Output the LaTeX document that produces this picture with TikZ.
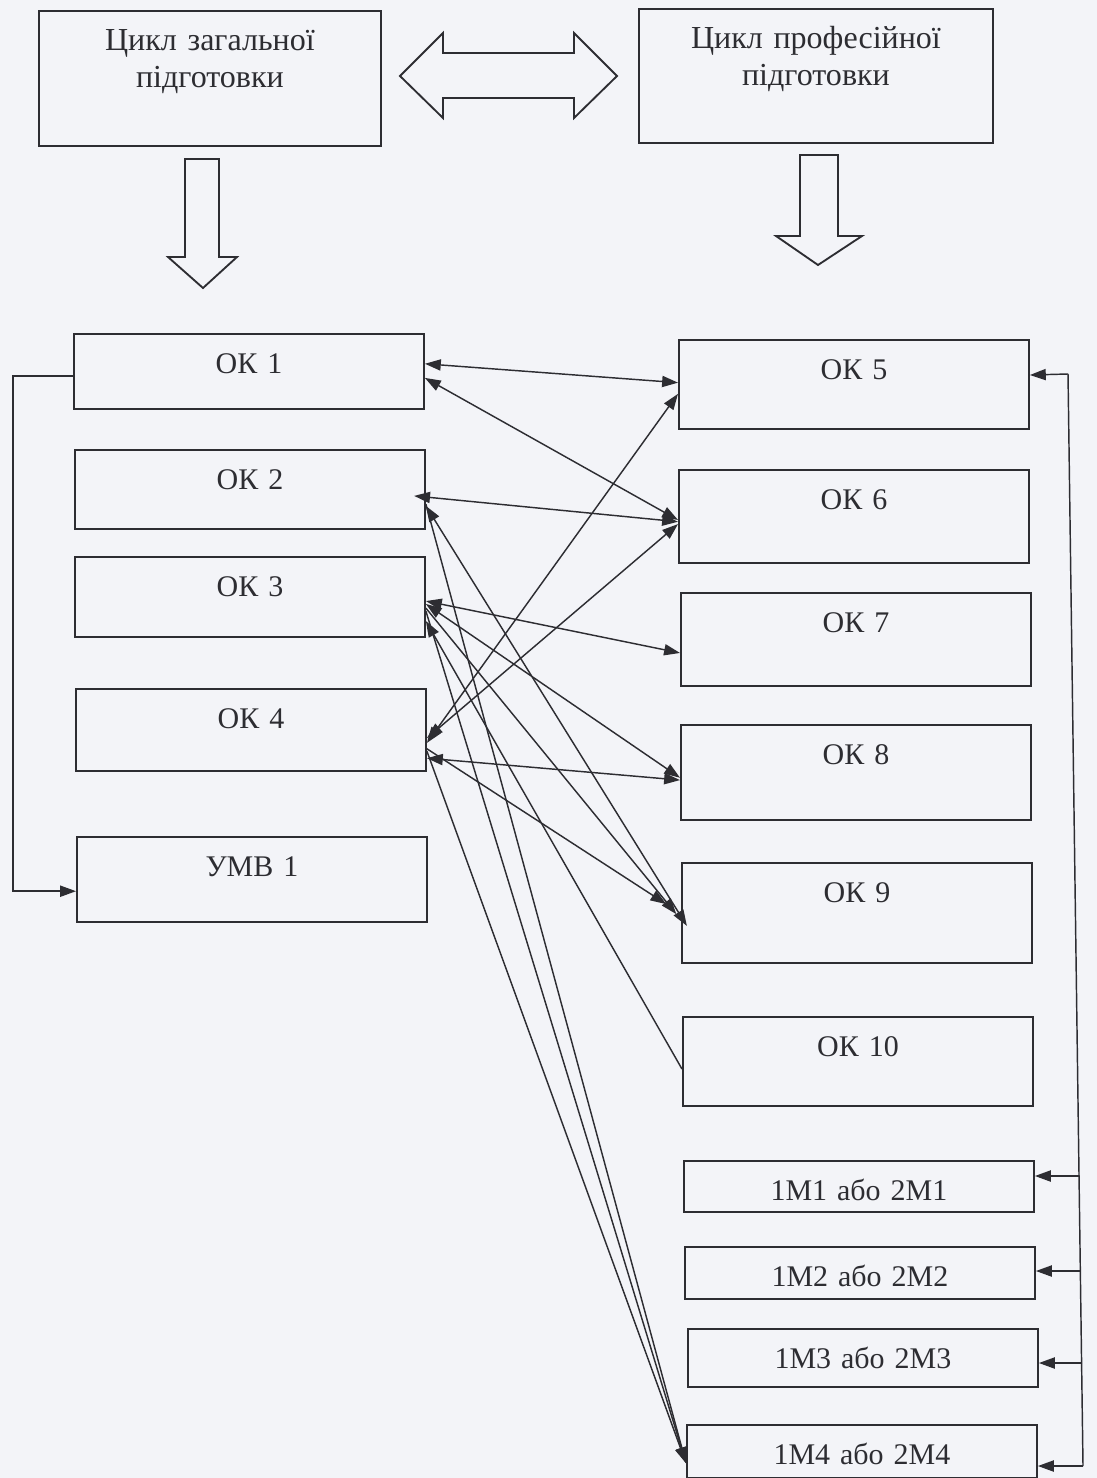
\documentclass[tikz,border=0pt]{standalone}
\usepackage{fontspec}
\setmainfont{Liberation Serif}
\usetikzlibrary{arrows.meta}
\definecolor{paper}{RGB}{243,244,248}
\definecolor{ink}{RGB}{45,45,50}

\begin{document}
\begin{tikzpicture}[x=0.017cm, y=-0.017cm, font=\fontsize{14.5}{17}\selectfont, color=ink,
      >={Triangle[length=0.27cm,width=0.19cm]},
      okbox/.style={draw=ink, line width=0.9pt, anchor=north west, inner sep=0pt,
                    minimum width=5.95cm, text width=5.95cm, align=center,
                    text height=0.68cm, text depth=#1},
      link/.style={draw=ink, line width=0.7pt},
      blockarrow/.style={draw=ink, line width=0.9pt, line join=miter}]
    \useasboundingbox (0,0) rectangle (1097,1478);
    \fill[paper] (0,0) rectangle (1097,1478);

    % cycles
    \node[okbox=1.615cm, minimum width=5.814cm, text width=5.814cm, font=\fontsize{15.5}{17.5}\selectfont]
      (gen) at (38,10) {Цикл загальної\\підготовки};
    \node[okbox=1.598cm, minimum width=6.018cm, text width=6.018cm, font=\fontsize{15.5}{17.5}\selectfont]
      (prof) at (638,8) {Цикл професійної\\підготовки};
    \draw[blockarrow] (400,76) -- (443,33) -- (443,53) -- (574,53) -- (574,33) -- (617,76)
      -- (574,118) -- (574,98) -- (443,98) -- (443,118) -- cycle;
    \draw[blockarrow] (185,159) -- (219,159) -- (219,257) -- (237,257) -- (203,288) -- (168,257) -- (185,257) -- cycle;
    \draw[blockarrow] (800,155) -- (838,155) -- (838,236) -- (862,236) -- (818,265) -- (776,236) -- (800,236) -- cycle;

    % left column
    \node[okbox=0.595cm] (ok1) at (73,333) {ОК 1};
    \node[okbox=0.663cm] (ok2) at (74,449) {ОК 2};
    \node[okbox=0.680cm] (ok3) at (74,556) {ОК 3};
    \node[okbox=0.714cm] (ok4) at (75,688) {ОК 4};
    \node[okbox=0.765cm] (umv) at (76,836) {УМВ 1};

    % right column
    \node[okbox=0.833cm] (ok5) at (678,339) {ОК 5};
    \node[okbox=0.901cm] (ok6) at (678,469) {ОК 6};
    \node[okbox=0.901cm] (ok7) at (680,592) {ОК 7};
    \node[okbox=0.935cm] (ok8) at (680,724) {ОК 8};
    \node[okbox=1.020cm] (ok9) at (681,862) {ОК 9};
    \node[okbox=0.833cm] (ok10) at (682,1016) {ОК 10};
    \node[okbox=0.187cm] (m1) at (683,1160) {1М1 або 2М1};
    \node[okbox=0.204cm] (m2) at (684,1246) {1М2 або 2М2};
    \node[okbox=0.306cm] (m3) at (687,1328) {1М3 або 2М3};
    \node[okbox=0.221cm] (m4) at (686,1424) {1М4 або 2М4};

    % links between columns
    \draw[link,<->] ([yshift=0.13cm]ok1.east) -- ([yshift=0.03cm]ok5.west);
    \draw[link,<->] ([yshift=-0.11cm]ok1.east) -- ([yshift=-0.06cm]ok6.west);
    \draw[link,<->] ([xshift=-0.2cm,yshift=-0.11cm]ok2.east) -- ([yshift=-0.09cm]ok6.west);
    \draw[link,<->] ([yshift=-0.22cm]ok4.east) -- ([yshift=-0.16cm]ok5.west);
    \draw[link,<->] ([yshift=-0.14cm]ok4.east) -- ([yshift=-0.13cm]ok6.west);
    \draw[link,<->] ([yshift=-0.07cm]ok3.east) -- ([yshift=-0.23cm]ok7.west);
    \draw[link,<->] ([yshift=-0.12cm]ok3.east) -- ([yshift=-0.09cm]ok8.west);
    \draw[link,<->] ([yshift=-0.48cm]ok4.east) -- ([yshift=-0.13cm]ok8.west);
    \draw[link,->] ([yshift=-0.32cm]ok4.east) -- ([xshift=-0.25cm,yshift=0.15cm]ok9.west);
    \draw[link,->] ([yshift=-0.19cm]ok3.east) -- ([xshift=-0.08cm,yshift=-0.02cm]ok9.west);
    \draw[link,<->] ([yshift=-0.28cm]ok2.east) -- ([xshift=0.1cm,yshift=-0.22cm]ok9.west);
    \draw[link,->] ([yshift=-0.13cm]ok10.west) -- ([yshift=-0.41cm]ok3.east);
    \draw[link,->] ([yshift=-0.25cm]ok2.east) -- ([yshift=-0.2cm]m4.west);
    \draw[link,->] ([yshift=-0.24cm]ok3.east) -- ([yshift=-0.2cm]m4.west);
    \draw[link,->] ([yshift=-0.36cm]ok4.east) -- ([yshift=-0.2cm]m4.west);

    % side lines
    \draw[link,->] ([yshift=-0.08cm]ok1.west) -- ++(-60,0) |- ([yshift=-0.2cm]umv.west);
    \coordinate (busT) at (1068,374);
    \coordinate (j1) at (1079,1176);
    \coordinate (j2) at (1080,1271);
    \coordinate (j3) at (1082,1363);
    \coordinate (busB) at (1083,1466);
    \draw[link] (busB) -- (busT);
    \draw[link,->] (busT) -- ([yshift=0.16cm]ok5.east);
    \draw[link,->] (j1) -- (j1 -| m1.east);
    \draw[link,->] (j2) -- (j2 -| m2.east);
    \draw[link,->] (j3) -- (j3 -| m3.east);
    \draw[link,->] (busB) -- (busB -| m4.east);
\end{tikzpicture}
\end{document}
